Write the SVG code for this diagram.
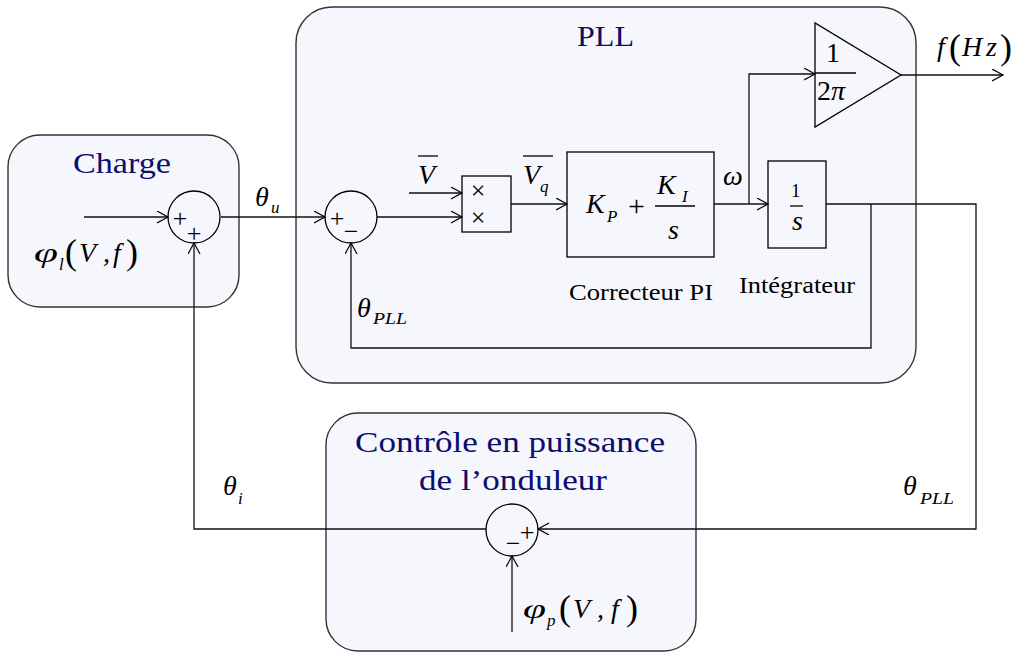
<svg xmlns="http://www.w3.org/2000/svg" width="1019" height="652" viewBox="0 0 1019 652">
<defs>
<marker id="arr" markerWidth="13" markerHeight="13" refX="11" refY="6" orient="auto" markerUnits="userSpaceOnUse"><path d="M0,0 L11,6 L0,12" fill="none" stroke="#000" stroke-width="1.2"/></marker>
</defs>
<style>
.box{fill:#f6f7fc;stroke:#333;stroke-width:1.4}
.blk{fill:none;stroke:#000;stroke-width:1.3}
.wire{fill:none;stroke:#111;stroke-width:1.3;marker-end:url(#arr)}
.ln{fill:none;stroke:#000;stroke-width:1.3}
.title{font-family:"Liberation Serif",serif;font-size:30px;fill:#0d0d6e}
.m{font-family:"Liberation Serif",serif;font-style:italic;font-size:28px;fill:#000}
.up{font-family:"Liberation Serif",serif;font-style:normal;fill:#000}
.sub{font-family:"Liberation Serif",serif;font-style:italic;font-size:17px;fill:#000}
.r{font-family:"Liberation Serif",serif;font-size:24px;fill:#000}
.sign{font-family:"Liberation Serif",serif;font-size:26px;text-anchor:middle;fill:#000}
</style>

<g id="charge">
<rect class="box" x="8" y="135" width="231" height="172" rx="32"/>
<text class="title" x="73" y="173" textLength="98" lengthAdjust="spacingAndGlyphs">Charge</text>
<text class="m" x="34" y="262" font-size="32" textLength="24" lengthAdjust="spacingAndGlyphs">φ</text>
<text class="sub" x="59" y="270">l</text>
<text class="up" x="65" y="264" font-size="36">(</text>
<text class="m" x="79" y="262">V</text>
<text class="m" x="103" y="262">,</text>
<text class="m" x="113" y="262">f</text>
<text class="up" x="126" y="264" font-size="36">)</text>
</g>

<g id="pll">
<rect class="box" x="296" y="7" width="620" height="376" rx="36"/>
<text class="title" x="577" y="46" textLength="57" lengthAdjust="spacingAndGlyphs">PLL</text>
</g>

<g id="controle">
<rect class="box" x="326" y="413" width="370" height="238" rx="32"/>
<text class="title" x="355" y="452" textLength="310" lengthAdjust="spacingAndGlyphs">Contrôle en puissance</text>
<text class="title" x="419" y="490" textLength="188" lengthAdjust="spacingAndGlyphs">de l’onduleur</text>
</g>

<g id="connectors">
<path class="wire" d="M84,217 H168"/>
<path class="wire" d="M221,217 H325"/>
<path class="wire" d="M377,217 H462"/>
<path class="wire" d="M409,193 H462"/>
<path class="wire" d="M511,204 H567"/>
<path class="wire" d="M714,204 H768"/>
<path class="wire" d="M749,204 V74 H815"/>
<path class="wire" d="M901,75 H1003"/>
<path class="wire" d="M826,204 H976 V529 H538"/>
<path class="wire" d="M871,204 V348 H351 V243"/>
<path class="wire" d="M486,529 H194 V243"/>
<path class="wire" d="M512,632 V556"/>
</g>

<g id="sum-charge">
<circle class="blk" cx="194" cy="217" r="26"/>
<text class="sign" x="180" y="227">+</text>
<text class="sign" x="194" y="242">+</text>
</g>

<g id="sum-pll">
<circle class="blk" cx="351" cy="217" r="26"/>
<text class="sign" x="337" y="227">+</text>
<text class="sign" x="351" y="240">−</text>
</g>

<g id="multiplier">
<rect class="blk" x="462" y="176" width="49" height="56"/>
<text class="sign" x="478" y="199" font-size="22">×</text>
<text class="sign" x="478" y="226" font-size="22">×</text>
</g>

<g id="correcteur">
<rect class="blk" x="567" y="152" width="147" height="105"/>
<text class="m" x="586" y="213" font-size="30">K</text>
<text class="sub" x="607" y="222" font-size="19">P</text>
<text class="up" x="628" y="216" font-size="30">+</text>
<line class="ln" x1="655" y1="206" x2="695" y2="206"/>
<text class="m" x="657" y="194" font-size="30">K</text>
<text class="sub" x="682" y="202" font-size="19">I</text>
<text class="m" x="668" y="239" font-size="28">s</text>
<text class="r" x="569" y="300" textLength="144" lengthAdjust="spacingAndGlyphs">Correcteur PI</text>
</g>

<g id="integrateur">
<rect class="blk" x="768" y="161" width="58" height="87"/>
<text class="up" x="791" y="197" font-size="19">1</text>
<line class="ln" x1="790" y1="206" x2="803" y2="206"/>
<text class="m" x="792" y="230" font-size="19">s</text>
<text class="r" x="739" y="293" textLength="116" lengthAdjust="spacingAndGlyphs">Intégrateur</text>
</g>

<g id="gain">
<polygon class="blk" points="815,23 815,127 901,75"/>
<text class="up" x="826" y="62" font-size="28">1</text>
<line class="ln" x1="815" y1="73" x2="856" y2="73"/>
<text class="up" x="817" y="100" font-size="28">2<tspan font-style="italic">π</tspan></text>
</g>

<g id="sum-controle">
<circle class="blk" cx="512" cy="530" r="26"/>
<text class="sign" x="527" y="541">+</text>
<text class="sign" x="513" y="552">−</text>
</g>

<g id="labels">
<text class="m" x="255" y="206">θ</text>
<text class="sub" x="271" y="213">u</text>
<text class="m" x="418" y="184">V</text>
<line class="ln" x1="418" y1="156" x2="438" y2="156"/>
<text class="m" x="523" y="184">V</text>
<line class="ln" x1="523" y1="156" x2="553" y2="156"/>
<text class="sub" x="540" y="192">q</text>
<text class="m" x="723" y="185">ω</text>
<text class="m" x="357" y="317">θ</text>
<text class="sub" x="373" y="324" textLength="34" lengthAdjust="spacingAndGlyphs">PLL</text>
<text class="m" x="223" y="495">θ</text>
<text class="sub" x="238" y="504">i</text>
<text class="m" x="903" y="495">θ</text>
<text class="sub" x="920" y="504" textLength="34" lengthAdjust="spacingAndGlyphs">PLL</text>
<text class="m" x="937" y="56">f</text>
<text class="up" x="949" y="59" font-size="36">(</text>
<text class="m" x="962" y="56" font-size="30">H</text>
<text class="m" x="986" y="56" font-size="30">z</text>
<text class="up" x="1000" y="59" font-size="36">)</text>
<text class="m" x="523" y="618" font-size="32" textLength="23" lengthAdjust="spacingAndGlyphs">φ</text>
<text class="sub" x="547" y="626">p</text>
<text class="up" x="559" y="620" font-size="36">(</text>
<text class="m" x="573" y="618">V</text>
<text class="m" x="597" y="618">,</text>
<text class="m" x="611" y="618">f</text>
<text class="up" x="626" y="620" font-size="36">)</text>
</g>
</svg>
